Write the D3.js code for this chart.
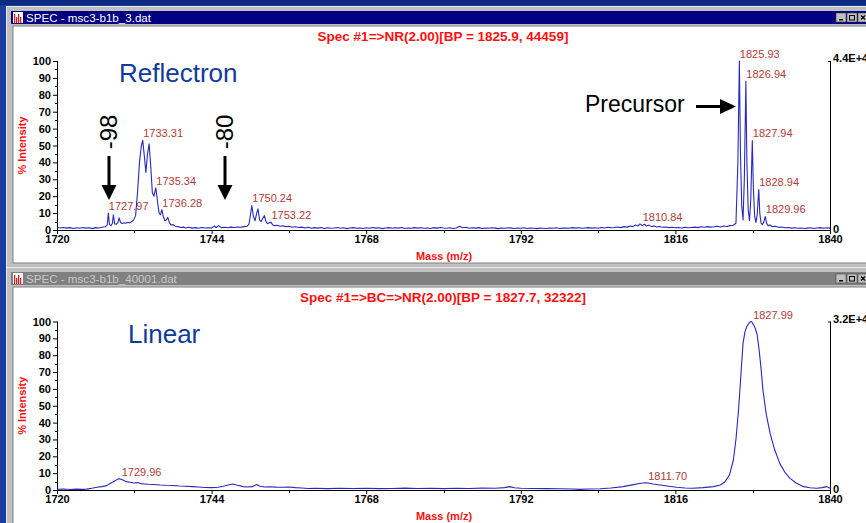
<!DOCTYPE html>
<html>
<head>
<meta charset="utf-8">
<script src="https://cdn.jsdelivr.net/npm/d3@7"></script>
<style>
body { margin: 0; background: #1a3c9e; overflow: hidden; }
svg { display: block; font-family: "Liberation Sans", Arial, sans-serif; }
</style>
</head>
<body>
<svg width="866" height="523"></svg>
<script>
// spectrum data [mass, % intensity]
var reflectronData = [
 [1720.0,1.6],[1720.5,1.2],[1721.0,1.5],[1721.5,1.1],[1722.0,1.4],[1722.5,0.9],[1723.0,1.3],[1723.5,1.0],
 [1724.0,1.5],[1724.5,1.1],[1725.0,1.3],[1725.5,0.8],[1726.0,1.4],[1726.5,1.2],[1727.0,1.6],[1727.5,1.9],
 [1727.8,3.0],[1727.97,10.0],[1728.15,3.2],[1728.4,2.6],[1728.6,4.0],[1728.75,9.0],[1728.95,3.6],[1729.2,3.4],
 [1729.45,4.4],[1729.65,7.2],[1729.85,4.6],[1730.1,3.8],[1730.4,4.3],[1730.7,4.0],[1731.0,4.6],[1731.3,4.2],
 [1731.6,5.0],[1731.9,6.0],[1732.2,8.5],[1732.5,22],[1732.8,40],[1733.1,50],[1733.31,53],[1733.55,44],
 [1733.8,34],[1734.05,45],[1734.3,51],[1734.55,38],[1734.8,22],[1735.05,20],[1735.34,25],[1735.6,17],
 [1735.85,10],[1736.05,9],[1736.28,12],[1736.5,8],[1736.75,5.5],[1737.0,6],[1737.2,7.5],[1737.45,4.2],
 [1737.7,3.0],[1738.0,3.2],[1738.4,2.2],[1738.8,2.0],[1739.2,1.5],[1739.6,1.7],[1740.0,1.2],[1740.5,1.6],
 [1741.0,1.1],[1741.5,1.4],[1742.0,1.0],[1742.5,1.5],[1743.0,1.2],[1743.5,1.3],[1744.0,1.1],[1744.4,2.4],
 [1744.7,1.5],[1745.1,2.6],[1745.5,1.4],[1746.0,1.6],[1746.5,1.3],[1747.0,1.7],[1747.5,1.5],[1748.0,1.8],
 [1748.5,1.6],[1749.0,2.0],[1749.5,2.2],[1749.8,3.5],[1750.0,8.0],[1750.24,14.5],[1750.5,8.0],[1750.75,5.5],
 [1751.0,10.0],[1751.2,12.5],[1751.45,6.0],[1751.7,5.0],[1751.95,7.0],[1752.2,8.5],[1752.45,4.8],[1752.7,3.8],
 [1752.95,4.3],[1753.22,4.5],[1753.5,3.0],[1753.8,2.6],[1754.2,2.8],[1754.6,2.2],[1755.0,2.5],[1755.5,2.0],
 [1756.0,2.2],[1756.5,1.6],[1757.0,1.9],[1757.5,1.5],[1758.0,1.7],[1758.5,1.2],[1759.0,1.6],[1759.5,1.0],
 [1760.0,1.4],[1760.5,1.1],[1761.0,1.5],[1761.5,0.9],[1762.0,1.3],[1762.5,1.0],[1763.0,1.2],[1763.5,1.5],
 [1764.0,1.0],[1764.5,1.3],[1765.0,0.8],[1765.5,1.2],[1766.0,1.4],[1766.5,1.0],[1767.0,1.2],[1767.5,0.9],
 [1768.0,1.3],[1768.5,1.0],[1769.0,1.5],[1769.5,1.1],[1770.0,1.3],[1770.5,0.8],[1771.0,1.2],[1771.5,1.4],
 [1772.0,1.0],[1772.5,1.3],[1773.0,1.1],[1773.5,1.5],[1774.0,0.9],[1774.5,1.2],[1775.0,1.0],[1775.5,1.4],
 [1776.0,1.1],[1776.5,1.3],[1777.0,1.0],[1777.5,1.2],[1778.0,0.9],[1778.5,1.4],[1779.0,1.1],[1779.5,1.5],
 [1780.0,1.2],[1780.5,1.0],[1781.0,1.3],[1781.5,0.9],[1782.0,1.2],[1782.5,2.2],[1783.0,1.3],[1783.5,1.6],
 [1784.0,1.0],[1784.5,1.3],[1785.0,1.1],[1785.5,1.4],[1786.0,0.9],[1786.5,1.2],[1787.0,1.0],[1787.5,1.3],
 [1788.0,1.1],[1788.5,0.8],[1789.0,1.2],[1789.5,1.0],[1790.0,1.3],[1790.5,1.1],[1791.0,0.9],[1791.5,1.2],
 [1792.0,1.0],[1792.5,1.3],[1793.0,0.9],[1793.5,1.1],[1794.0,1.0],[1794.5,0.8],[1795.0,1.1],[1795.5,1.0],
 [1796.0,0.9],[1796.5,1.2],[1797.0,1.0],[1797.5,1.3],[1798.0,0.9],[1798.5,1.1],[1799.0,1.2],[1799.5,1.0],
 [1800.0,1.4],[1800.5,1.1],[1801.0,1.3],[1801.5,1.0],[1802.0,1.2],[1802.5,1.4],[1803.0,1.1],[1803.5,1.3],
 [1804.0,1.0],[1804.5,1.5],[1805.0,1.2],[1805.5,1.6],[1806.0,1.3],[1806.5,1.5],[1807.0,1.8],[1807.5,1.4],
 [1808.0,2.0],[1808.5,1.7],[1809.0,2.4],[1809.4,2.0],[1809.8,3.0],[1810.2,2.4],[1810.5,3.6],[1810.84,2.6],
 [1811.2,3.4],[1811.5,2.3],[1811.9,2.9],[1812.3,2.0],[1812.7,2.4],[1813.1,1.8],[1813.5,2.1],[1814.0,1.6],
 [1814.5,1.8],[1815.0,1.4],[1815.5,1.6],[1816.0,1.3],[1816.5,1.5],[1817.0,1.2],[1817.5,1.6],[1818.0,1.3],
 [1818.5,1.5],[1819.0,1.7],[1819.5,1.4],[1820.0,1.9],[1820.5,1.6],[1821.0,2.0],[1821.5,1.7],[1822.0,1.9],
 [1822.5,2.2],[1823.0,1.8],[1823.5,2.4],[1824.0,2.1],[1824.5,2.6],[1825.0,2.8],[1825.4,4.0],[1825.7,40],
 [1825.93,100],[1826.1,45],[1826.3,14],[1826.5,6],[1826.7,30],[1826.94,88],[1827.1,40],[1827.3,12],
 [1827.5,5.5],[1827.7,18],[1827.94,53],[1828.1,25],[1828.3,8],[1828.5,4.5],[1828.7,9],[1828.94,24],
 [1829.1,10],[1829.3,4],[1829.5,3.2],[1829.7,4.5],[1829.96,8],[1830.15,4],[1830.4,2.6],[1830.7,3.0],
 [1831.0,2.0],[1831.5,2.2],[1832.0,1.6],[1832.5,1.8],[1833.0,1.3],[1833.5,1.5],[1834.0,1.1],[1834.5,1.3],
 [1835.0,1.0],[1835.5,1.2],[1836.0,0.9],[1836.5,1.1],[1837.0,1.3],[1837.5,0.9],[1838.0,1.2],[1838.5,1.4],
 [1839.0,1.0],[1839.5,1.3],[1840.0,1.1]
];

var linearData = [
 [1720.0,0.4],[1721.0,0.6],[1722.0,0.3],[1723.0,0.5],[1724.0,0.4],[1724.6,0.5],[1725.4,1.0],[1726.2,1.6],
 [1727.0,2.0],[1727.7,2.6],[1728.3,4.0],[1728.9,5.2],[1729.5,6.6],[1729.96,6.4],[1730.4,5.6],[1730.9,4.8],
 [1731.4,4.6],[1731.9,4.2],[1732.5,4.4],[1733.0,3.8],[1733.6,3.6],[1734.2,3.4],[1735.0,3.3],[1736.0,3.0],
 [1737.0,2.8],[1738.0,2.7],[1739.0,2.4],[1740.0,2.2],[1741.0,2.0],[1742.0,1.8],[1743.0,1.5],[1744.0,1.4],
 [1745.0,1.6],[1745.8,2.2],[1746.6,3.0],[1747.3,3.6],[1748.0,2.8],[1748.9,2.0],[1749.6,1.8],[1750.3,2.0],
 [1751.0,3.2],[1751.5,2.2],[1752.2,1.8],[1753.0,1.9],[1754.0,1.7],[1755.0,1.6],[1756.0,1.8],[1757.0,1.4],
 [1758.0,1.2],[1759.0,0.9],[1760.0,1.0],[1762.0,0.8],[1764.0,1.0],[1766.0,0.9],[1768.0,1.0],[1770.0,0.8],
 [1772.0,0.9],[1774.0,1.1],[1776.0,0.9],[1778.0,1.0],[1780.0,0.8],[1782.0,1.0],[1784.0,0.9],[1786.0,1.1],
 [1788.0,1.0],[1789.5,1.4],[1790.3,2.0],[1791.0,1.3],[1792.0,1.0],[1794.0,0.9],[1796.0,0.8],[1798.0,0.7],
 [1800.0,0.6],[1801.2,0.4],[1802.5,0.6],[1804.3,0.7],[1806.0,1.2],[1807.9,2.0],[1809.5,3.2],[1810.6,4.0],
 [1811.5,4.3],[1811.70,4.2],[1812.5,3.6],[1813.6,3.0],[1815.0,2.2],[1816.2,1.6],[1817.5,1.2],[1818.7,1.0],
 [1820.3,1.4],[1821.9,2.0],[1823.0,3.0],[1823.7,4.9],[1824.4,9.0],[1825.0,17.8],[1825.4,30],[1825.8,47.5],
 [1826.2,70],[1826.5,87],[1826.8,94],[1827.1,97],[1827.5,99.5],[1827.8,100],[1827.99,99],[1828.4,96],
 [1828.7,92],[1829.0,83],[1829.3,72],[1829.6,59],[1830.1,45],[1830.7,33.6],[1831.4,24],[1832.2,15.8],
 [1833.0,10.5],[1833.8,6.9],[1834.8,4.0],[1835.9,2.0],[1836.9,1.3],[1837.9,1.0],[1838.8,1.4],[1839.5,2.0],
 [1840.0,1.0]
];

// labelled peaks: mass, intensity at the top
var reflPeakMass = [1727.97, 1733.31, 1735.34, 1736.28, 1750.24, 1753.22, 1810.84, 1825.93, 1826.94, 1827.94, 1828.94, 1829.96];
var reflPeakInt  = [10, 53, 25, 12, 14.5, 4.5, 3.6, 100, 88, 53, 24, 8];
var linPeakMass = [1729.96, 1811.70, 1827.99];
var linPeakInt  = [6.6, 4.3, 100];

var massTicks = [1720, 1744, 1768, 1792, 1816, 1840];
var massMinor = [1732, 1756, 1780, 1804, 1828];
var intTicks = [0, 10, 20, 30, 40, 50, 60, 70, 80, 90, 100];
var intMinor = [5, 15, 25, 35, 45, 55, 65, 75, 85, 95];

var svg = d3.select("svg");

// ---- window chrome ----
function drawWindow(top, h, title, active) {
  var g = svg.append("g");
  g.append("rect").attr("x", 6).attr("y", top).attr("width", 880).attr("height", h)
    .attr("fill", "#c0c0c0");
  g.append("line").attr("x1", 6.5).attr("x2", 6.5).attr("y1", top).attr("y2", top + h).attr("stroke", "#e8e8e8");
  g.append("line").attr("x1", 6).attr("x2", 880).attr("y1", top + 0.5).attr("y2", top + 0.5).attr("stroke", "#e8e8e8");
  g.append("rect").attr("x", 11).attr("y", top + 5).attr("width", 870).attr("height", 13)
    .attr("fill", active ? "#000080" : "#808080");
  // icon
  g.append("rect").attr("x", 13).attr("y", top + 6).attr("width", 10).attr("height", 11).attr("fill", "#fff");
  [14, 16, 18, 20].forEach(function (bx, i) {
    g.append("rect").attr("x", bx).attr("y", top + 8 + (i % 2) * 3).attr("width", 1.3)
      .attr("height", 9 - (i % 2) * 3).attr("fill", "#d02020");
  });
  g.append("text").attr("x", 26).attr("y", top + 15.5).attr("font-size", 11.6)
    .attr("fill", active ? "#fff" : "#c8c8c8").text(title);
  // buttons
  [836, 847, 858].forEach(function (bx, i) {
    g.append("rect").attr("x", bx).attr("y", top + 7).attr("width", 10).attr("height", 9)
      .attr("fill", "#c0c0c0").attr("stroke", "#404040").attr("stroke-width", 0.6);
    if (i == 0) g.append("rect").attr("x", bx + 3).attr("y", top + 13).attr("width", 4).attr("height", 1.5).attr("fill", "#000");
    if (i == 1) g.append("rect").attr("x", bx + 2.5).attr("y", top + 9.5).attr("width", 5).attr("height", 4.5)
      .attr("fill", "none").attr("stroke", "#000").attr("stroke-width", 1);
    if (i == 2) g.append("path").attr("d", "M" + (bx + 3) + "," + (top + 9.5) + "l4,4 M" + (bx + 7) + "," + (top + 9.5) + "l-4,4")
      .attr("stroke", "#000").attr("stroke-width", 1.2);
  });
  g.append("rect").attr("x", 13).attr("y", top + 20).attr("width", 870).attr("height", h - 25)
    .attr("fill", "#fff").attr("stroke", "#808080").attr("stroke-width", 1);
}

svg.append("rect").attr("width", 866).attr("height", 523).attr("fill", "#1a3c9e");
svg.append("rect").attr("width", 866).attr("height", 5).attr("fill", "#0e2a80");
drawWindow(6, 262, "SPEC - msc3-b1b_3.dat", true);
drawWindow(267, 270, "SPEC - msc3-b1b_40001.dat", false);

// ---- spectrum panels ----
var x = d3.scaleLinear().domain([1720, 1840]).range([57, 830]);

function panel(y0, y100, data, peakMass, peakInt, specTitle, bigLabel, bigX, scaleLabel) {
  var y = d3.scaleLinear().domain([0, 100]).range([y0, y100]);
  var g = svg.append("g");

  g.append("text").attr("x", 443).attr("y", y100 - 20).attr("text-anchor", "middle")
    .attr("font-size", 13.5).attr("font-weight", "bold").attr("fill", "#ff1010").text(specTitle);

  // left axis
  var yAxis = d3.axisLeft(y).tickValues(intTicks).tickSize(4).tickPadding(2);
  var ya = g.append("g").attr("transform", "translate(57,0)").call(yAxis);
  ya.selectAll("text").attr("font-size", 11).attr("font-weight", "bold").attr("font-family", "Liberation Sans").attr("fill", "#000");
  ya.select(".domain").remove();
  g.append("line").attr("x1", 57.5).attr("x2", 57.5).attr("y1", y100).attr("y2", y0).attr("stroke", "#000");
  g.append("g").selectAll("line").data(intMinor).enter().append("line")
    .attr("x1", 55).attr("x2", 57).attr("y1", function (d) { return Math.round(y(d)) + 0.5; })
    .attr("y2", function (d) { return Math.round(y(d)) + 0.5; }).attr("stroke", "#000");

  // bottom axis
  var xAxis = d3.axisBottom(x).tickValues(massTicks).tickSize(4).tickPadding(1).tickFormat(d3.format("d"));
  var xa = g.append("g").attr("transform", "translate(0," + y0 + ")").call(xAxis);
  xa.selectAll("text").attr("font-size", 11).attr("font-weight", "bold").attr("font-family", "Liberation Sans").attr("fill", "#000");
  xa.select(".domain").remove();
  g.append("line").attr("x1", 57).attr("x2", 830).attr("y1", y0 + 0.5).attr("y2", y0 + 0.5).attr("stroke", "#000");
  g.append("g").selectAll("line").data(massMinor).enter().append("line")
    .attr("x1", function (d) { return Math.round(x(d)) + 0.5; }).attr("x2", function (d) { return Math.round(x(d)) + 0.5; })
    .attr("y1", y0).attr("y2", y0 + 3).attr("stroke", "#000");

  // right axis
  g.append("line").attr("x1", 830.5).attr("x2", 830.5).attr("y1", y100).attr("y2", y0).attr("stroke", "#000");
  g.append("line").attr("x1", 828).attr("x2", 830.5).attr("y1", y100 + 0.5).attr("y2", y100 + 0.5).attr("stroke", "#000");
  g.append("text").attr("x", 833).attr("y", y100 + 1).attr("font-size", 11).attr("font-weight", "bold").text(scaleLabel);
  g.append("text").attr("x", 833).attr("y", y0 + 3).attr("font-size", 11).attr("font-weight", "bold").text("0");

  // axis titles
  g.append("text").attr("transform", "translate(26," + ((y0 + y100) / 2) + ") rotate(-90)")
    .attr("text-anchor", "middle").attr("font-size", 11).attr("font-weight", "bold").attr("fill", "#ff1010").text("% Intensity");
  g.append("text").attr("x", 444).attr("y", y0 + 30).attr("text-anchor", "middle")
    .attr("font-size", 11).attr("font-weight", "bold").attr("fill", "#ff1010").text("Mass (m/z)");

  // big label
  g.append("text").attr("x", bigX).attr("y", y100 + 21).attr("font-size", 26)
    .attr("fill", "#123a9a").text(bigLabel);

  // spectrum trace
  var line = d3.line().x(function (d) { return x(d[0]); }).y(function (d) { return y(d[1]); });
  g.append("path").datum(data).attr("d", line).attr("fill", "none")
    .attr("stroke", "#2828c0").attr("stroke-width", 1.1).attr("stroke-linejoin", "round");

  // peak labels
  g.append("g").selectAll("text").data(peakMass).enter().append("text")
    .attr("x", function (d) { return x(d) + 0.5; })
    .attr("y", function (d, i) { return y(peakInt[i]) - 3; })
    .attr("font-size", 11).attr("fill", "#b23a3a")
    .text(function (d) { return d.toFixed(2); });
}

panel(230, 61, reflectronData, reflPeakMass, reflPeakInt, "Spec #1=>NR(2.00)[BP = 1825.9, 44459]", "Reflectron", 119, "4.4E+4");
panel(490, 321.5, linearData, linPeakMass, linPeakInt, "Spec #1=>BC=>NR(2.00)[BP = 1827.7, 32322]", "Linear", 128, "3.2E+4");

// ---- annotations ----
var ann = svg.append("g");
function downArrow(cx, label) {
  ann.append("text").attr("transform", "translate(" + (cx + 8) + ",132) rotate(-90)")
    .attr("text-anchor", "middle").attr("font-size", 24).attr("fill", "#000").text(label);
  ann.append("rect").attr("x", cx - 1.5).attr("y", 156).attr("width", 3).attr("height", 31).attr("fill", "#000");
  ann.append("path").attr("d", "M" + (cx - 7.5) + ",185 L" + (cx + 7.5) + ",185 L" + cx + ",200 Z").attr("fill", "#000");
}
downArrow(109, "-98");
downArrow(225, "-80");

ann.append("text").attr("x", 585).attr("y", 112).attr("font-size", 23).attr("fill", "#000").text("Precursor");
ann.append("rect").attr("x", 696).attr("y", 105).attr("width", 26).attr("height", 3).attr("fill", "#000");
ann.append("path").attr("d", "M720,99 L736,106.5 L720,114 Z").attr("fill", "#000");
</script>
</body>
</html>
